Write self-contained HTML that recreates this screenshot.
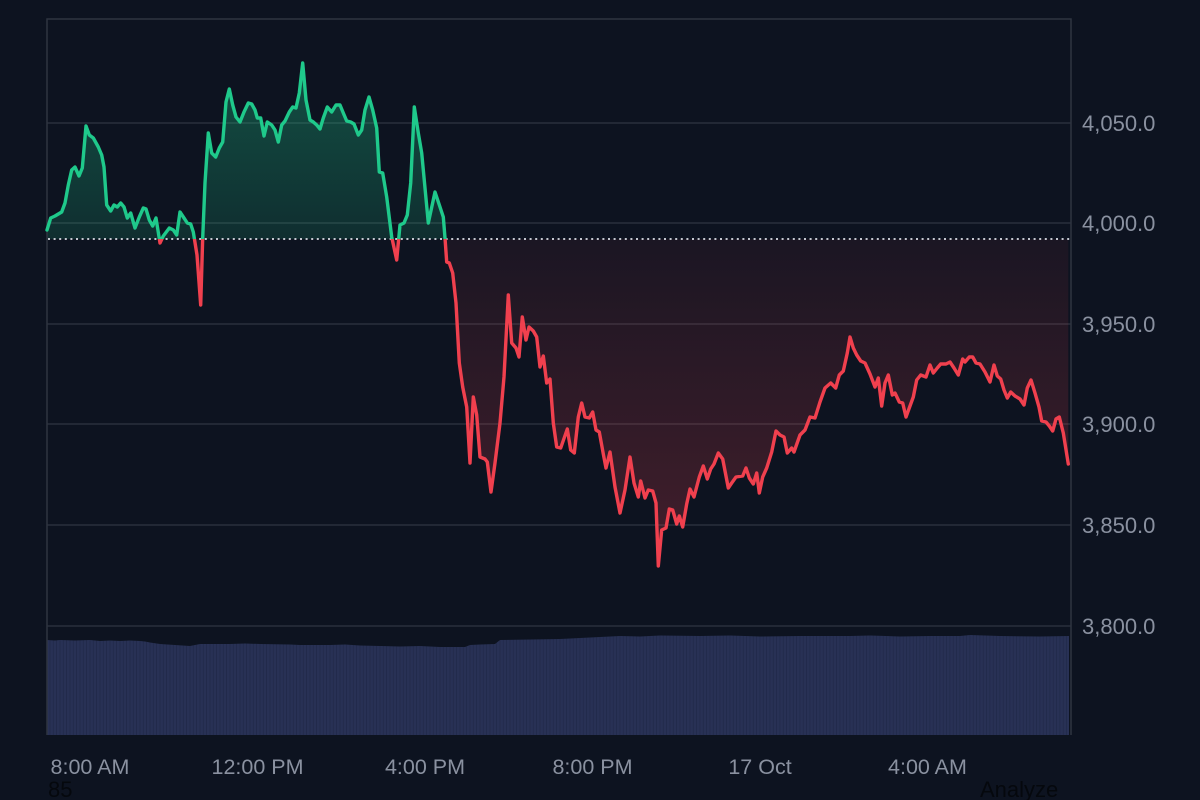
<!DOCTYPE html>
<html><head><meta charset="utf-8"><style>
html,body{margin:0;padding:0;background:#0d1320;width:1200px;height:800px;overflow:hidden}
svg{display:block}
text{font-family:"Liberation Sans",Arial,sans-serif}
</style></head><body>
<svg width="1200" height="800" viewBox="0 0 1200 800" xmlns="http://www.w3.org/2000/svg">
<defs>
<linearGradient id="gG" gradientUnits="userSpaceOnUse" x1="0" y1="60" x2="0" y2="239">
<stop offset="0" stop-color="#1ec88a" stop-opacity="0.34"/>
<stop offset="1" stop-color="#1ec88a" stop-opacity="0.15"/>
</linearGradient>
<linearGradient id="gR" gradientUnits="userSpaceOnUse" x1="0" y1="239" x2="0" y2="566">
<stop offset="0" stop-color="#f0424f" stop-opacity="0.06"/>
<stop offset="1" stop-color="#f0424f" stop-opacity="0.24"/>
</linearGradient>
<clipPath id="cTop"><rect x="40" y="0" width="1040" height="239"/></clipPath>
<clipPath id="cBot"><rect x="40" y="239" width="1040" height="500"/></clipPath>
<pattern id="vp" patternUnits="userSpaceOnUse" width="3.333" height="10" x="47">
<rect x="0" y="0" width="3.333" height="10" fill="#283155"/>
<rect x="2.7" y="0" width="0.63" height="10" fill="#1f2746"/>
</pattern>
<polygon id="fillpoly" points="47,239 47,230 50.7,218 55,216 61.7,212 65,203 68.3,185 71.7,170 75,167 79,176 82.3,168 86,126 89.3,135 93.3,138 98.3,147 101.7,155 104,167 106.7,205 110.7,211 114,205 117.3,207 120.7,203 124,207 127.3,218 130.7,213 135,228 139.3,217 143.3,208 146,209 149.3,220 152.7,226 156,218 160,243 163.3,236 169.3,228 173.3,230 176.7,235 180,212 184,218 187.3,223 190.7,224 193.3,232 197,255 200.7,305 202.7,238 205,183 208.3,133 211.7,153 215.7,157 219.3,148 222.7,142 226,102 229.3,89 232.7,105 236,117 240,122 244,112 248.3,103 251.7,104 255,110 257.3,118 260.7,118 264,136 267.3,122 271.7,125 275,130 278.3,142 281.7,125 285,121 289.3,112 292.7,107 296,108 299.3,93 302.7,63 306,100 310,120 313.3,122 316.7,125 320,129 323.3,118 327.3,107 331.7,112 336,105 340,105 343.3,113 346.7,121 350.7,122 354,124 358.3,135 361.7,130 365,110 369,97 372.7,110 376.7,128 379.3,172 382.7,173 386.7,197 391.7,237 396.7,260 400,225 404,223 407.3,215 410.7,183 414.3,107 418.3,133 421.7,153 428.3,223 435,192 440,207 443.3,217 445,238 446.7,262 449.3,263 452.7,273 456,303 459.3,363 462.7,387 466.7,407 470,463 473.3,397 476.7,415 480,457 485,459 487.3,462 491,492 495,463 500,423 504,377 508.3,295 511.7,343 516,348 519,357 522.3,317 526,340 529,327 533.3,331 536.7,337 540,367 543.3,356 546.7,383 550,379 553.3,423 556.7,447 560.7,448 567.3,429 570.7,450 574.3,453 578.3,417 581.7,403 585,417 589.3,418 592.7,412 596,430 599.3,432 603.3,454 606,468 610,452 615,487 620,513 625,490 630,457 634,483 638.3,497 640.7,481 645,498 648.3,490 652.7,491 656,503 658.3,566 661.7,530 666,528 669.3,509 672.7,510 676.7,524 679.3,516 682.7,527 686.7,504 690,489 694,497 699.3,477 703.3,466 707.3,479 710.7,469 714,464 718.3,453 722.7,459 728.3,488 731.7,483 736,477 742.7,476 746,468 749.3,478 753.3,484 756.7,473 759.3,493 762.7,477 766.7,468 771.7,452 776,431 780,435 784,437 787.3,453 791.7,448 794,452 800,435 805,430 810,417 815,418 820,402 825,388 830.7,383 835.7,388 839.3,375 843.3,371 847.3,353 850,337 853.3,348 856.7,355 860.7,361 865,363 870,374 875,387 878.3,378 881.7,406 885,383 888.3,375 892.3,395 895,393 899.3,402 902.7,403 906,417 910,406 913.3,397 916.7,380 920.7,375 926,377 930,365 933.3,373 937.3,368 940.7,364 946,364 950,362 954,368 958.3,375 962.7,359 965,362 969.3,357 972.7,357 976,363 980,364 985,372 990,382 994,365 997.3,376 1000.7,379 1004,390 1007.3,398 1010.7,392 1015,396 1020,399 1024,405 1027.3,388 1031,380 1035,393 1039,407 1041.7,421 1046,422 1049.3,426 1052.7,431 1056,419 1059.3,417 1063.3,433 1068.3,464 1068.3,239"/>
<polyline id="pline" points="47,230 50.7,218 55,216 61.7,212 65,203 68.3,185 71.7,170 75,167 79,176 82.3,168 86,126 89.3,135 93.3,138 98.3,147 101.7,155 104,167 106.7,205 110.7,211 114,205 117.3,207 120.7,203 124,207 127.3,218 130.7,213 135,228 139.3,217 143.3,208 146,209 149.3,220 152.7,226 156,218 160,243 163.3,236 169.3,228 173.3,230 176.7,235 180,212 184,218 187.3,223 190.7,224 193.3,232 197,255 200.7,305 202.7,238 205,183 208.3,133 211.7,153 215.7,157 219.3,148 222.7,142 226,102 229.3,89 232.7,105 236,117 240,122 244,112 248.3,103 251.7,104 255,110 257.3,118 260.7,118 264,136 267.3,122 271.7,125 275,130 278.3,142 281.7,125 285,121 289.3,112 292.7,107 296,108 299.3,93 302.7,63 306,100 310,120 313.3,122 316.7,125 320,129 323.3,118 327.3,107 331.7,112 336,105 340,105 343.3,113 346.7,121 350.7,122 354,124 358.3,135 361.7,130 365,110 369,97 372.7,110 376.7,128 379.3,172 382.7,173 386.7,197 391.7,237 396.7,260 400,225 404,223 407.3,215 410.7,183 414.3,107 418.3,133 421.7,153 428.3,223 435,192 440,207 443.3,217 445,238 446.7,262 449.3,263 452.7,273 456,303 459.3,363 462.7,387 466.7,407 470,463 473.3,397 476.7,415 480,457 485,459 487.3,462 491,492 495,463 500,423 504,377 508.3,295 511.7,343 516,348 519,357 522.3,317 526,340 529,327 533.3,331 536.7,337 540,367 543.3,356 546.7,383 550,379 553.3,423 556.7,447 560.7,448 567.3,429 570.7,450 574.3,453 578.3,417 581.7,403 585,417 589.3,418 592.7,412 596,430 599.3,432 603.3,454 606,468 610,452 615,487 620,513 625,490 630,457 634,483 638.3,497 640.7,481 645,498 648.3,490 652.7,491 656,503 658.3,566 661.7,530 666,528 669.3,509 672.7,510 676.7,524 679.3,516 682.7,527 686.7,504 690,489 694,497 699.3,477 703.3,466 707.3,479 710.7,469 714,464 718.3,453 722.7,459 728.3,488 731.7,483 736,477 742.7,476 746,468 749.3,478 753.3,484 756.7,473 759.3,493 762.7,477 766.7,468 771.7,452 776,431 780,435 784,437 787.3,453 791.7,448 794,452 800,435 805,430 810,417 815,418 820,402 825,388 830.7,383 835.7,388 839.3,375 843.3,371 847.3,353 850,337 853.3,348 856.7,355 860.7,361 865,363 870,374 875,387 878.3,378 881.7,406 885,383 888.3,375 892.3,395 895,393 899.3,402 902.7,403 906,417 910,406 913.3,397 916.7,380 920.7,375 926,377 930,365 933.3,373 937.3,368 940.7,364 946,364 950,362 954,368 958.3,375 962.7,359 965,362 969.3,357 972.7,357 976,363 980,364 985,372 990,382 994,365 997.3,376 1000.7,379 1004,390 1007.3,398 1010.7,392 1015,396 1020,399 1024,405 1027.3,388 1031,380 1035,393 1039,407 1041.7,421 1046,422 1049.3,426 1052.7,431 1056,419 1059.3,417 1063.3,433 1068.3,464"/>
</defs>
<rect width="1200" height="800" fill="#0d1320"/>

<!-- gridlines -->
<g stroke="#2a303c" stroke-width="1.5">
<line x1="47" y1="123" x2="1071" y2="123"/>
<line x1="47" y1="223" x2="1071" y2="223"/>
<line x1="47" y1="324" x2="1071" y2="324"/>
<line x1="47" y1="424" x2="1071" y2="424"/>
<line x1="47" y1="525" x2="1071" y2="525"/>
<line x1="47" y1="626" x2="1071" y2="626"/>
</g>

<!-- volume -->
<polygon fill="url(#vp)" points="47,640 55,640.5 60,640 75,640.5 90,640 100,641 110,640.5 120,641 130,640.5 140,641 145,641.5 150,642.5 160,644 175,645 190,646 195,645 200,644 230,644 245,643.5 260,644 290,644.5 300,645 330,645 345,644.5 360,645.5 380,646 400,646.5 420,646 440,647 465,647 470,645 480,644.5 495,644 500,640 530,639.5 560,639 580,638 600,637 620,636 640,636.5 660,635.5 700,636 730,635.5 760,636.5 800,636 850,636 870,635.5 900,636.5 930,636 960,636 970,635 1000,636 1040,636.5 1069,636 1069,735 47,735"/>

<!-- fill -->
<use href="#fillpoly" clip-path="url(#cTop)" fill="url(#gG)"/>
<use href="#fillpoly" clip-path="url(#cBot)" fill="url(#gR)"/>

<!-- frame -->
<g stroke="#2e3440" stroke-width="1.5" fill="none">
<polyline points="47,735 47,19 1071,19 1071,735"/>
</g>

<!-- baseline dotted -->
<line x1="48" y1="239" x2="1070" y2="239" stroke="#c3c7cf" stroke-width="2" stroke-dasharray="2 3.6"/>

<!-- line -->
<use href="#pline" clip-path="url(#cTop)" fill="none" stroke="#1fc98b" stroke-width="3.4" stroke-linejoin="round" stroke-linecap="round"/>
<use href="#pline" clip-path="url(#cBot)" fill="none" stroke="#f0404e" stroke-width="3.4" stroke-linejoin="round" stroke-linecap="round"/>

<!-- y labels -->
<g fill="#8a91a0" font-size="22">
<text x="1082" y="131">4,050.0</text>
<text x="1082" y="231">4,000.0</text>
<text x="1082" y="332">3,950.0</text>
<text x="1082" y="432">3,900.0</text>
<text x="1082" y="533">3,850.0</text>
<text x="1082" y="634">3,800.0</text>
</g>

<!-- x labels -->
<g fill="#8a91a0" font-size="21.5" text-anchor="middle">
<text x="90" y="774">8:00 AM</text>
<text x="257.5" y="774">12:00 PM</text>
<text x="425" y="774">4:00 PM</text>
<text x="592.5" y="774">8:00 PM</text>
<text x="760" y="774">17 Oct</text>
<text x="927.5" y="774">4:00 AM</text>
</g>

<text x="48" y="797" font-size="22" fill="#05080d">85</text>
<text x="980" y="797" font-size="22" fill="#05080d">Analyze</text>
</svg>
</body></html>
